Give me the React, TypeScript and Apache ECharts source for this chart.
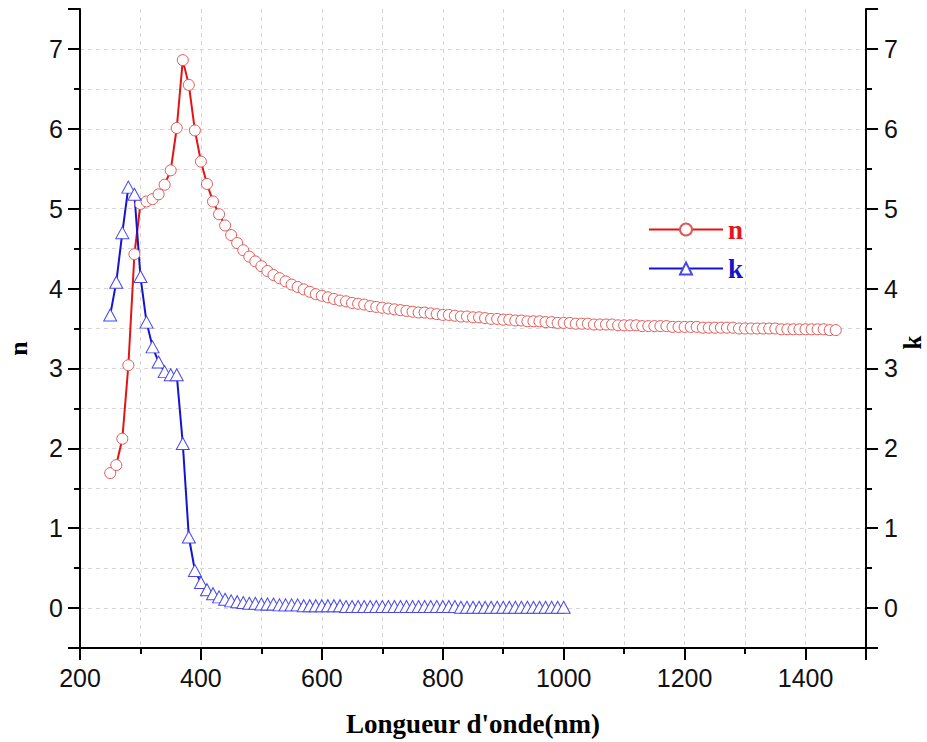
import React, { useEffect, useRef } from "react";
import * as echarts from "echarts";

const wavelengthN = [
  250, 260, 270, 280, 290, 300, 310, 320, 330, 340,
  350, 360, 370, 380, 390, 400, 410, 420, 430, 440,
  450, 460, 470, 480, 490, 500, 510, 520, 530, 540,
  550, 560, 570, 580, 590, 600, 610, 620, 630, 640,
  650, 660, 670, 680, 690, 700, 710, 720, 730, 740,
  750, 760, 770, 780, 790, 800, 810, 820, 830, 840,
  850, 860, 870, 880, 890, 900, 910, 920, 930, 940,
  950, 960, 970, 980, 990, 1000, 1010, 1020, 1030, 1040,
  1050, 1060, 1070, 1080, 1090, 1100, 1110, 1120, 1130, 1140,
  1150, 1160, 1170, 1180, 1190, 1200, 1210, 1220, 1230, 1240,
  1250, 1260, 1270, 1280, 1290, 1300, 1310, 1320, 1330, 1340,
  1350, 1360, 1370, 1380, 1390, 1400, 1410, 1420, 1430, 1440,
  1450,
];

const nValues = [
  1.69, 1.79, 2.12, 3.04, 4.43, 5.06, 5.09, 5.12, 5.18, 5.30,
  5.48, 6.01, 6.86, 6.55, 5.98, 5.59, 5.31, 5.09, 4.93, 4.79,
  4.67, 4.57, 4.48, 4.40, 4.34, 4.28, 4.22, 4.17, 4.13, 4.09,
  4.05, 4.02, 3.99, 3.96, 3.93, 3.91, 3.89, 3.87, 3.85, 3.84,
  3.82, 3.81, 3.80, 3.78, 3.77, 3.76, 3.75, 3.74, 3.73, 3.72,
  3.71, 3.70, 3.70, 3.69, 3.68, 3.67, 3.67, 3.66, 3.65, 3.65,
  3.64, 3.64, 3.63, 3.62, 3.62, 3.61, 3.61, 3.60, 3.60, 3.59,
  3.59, 3.59, 3.58, 3.58, 3.57, 3.57, 3.57, 3.56, 3.56, 3.56,
  3.55, 3.55, 3.55, 3.55, 3.54, 3.54, 3.54, 3.54, 3.53, 3.53,
  3.53, 3.53, 3.53, 3.52, 3.52, 3.52, 3.52, 3.52, 3.51, 3.51,
  3.51, 3.51, 3.51, 3.51, 3.50, 3.50, 3.50, 3.50, 3.50, 3.50,
  3.50, 3.49, 3.49, 3.49, 3.49, 3.49, 3.49, 3.49, 3.49, 3.48,
  3.48,
];

const wavelengthK = [
  250, 260, 270, 280, 290, 300, 310, 320, 330, 340,
  350, 360, 370, 380, 390, 400, 410, 420, 430, 440,
  450, 460, 470, 480, 490, 500, 510, 520, 530, 540,
  550, 560, 570, 580, 590, 600, 610, 620, 630, 640,
  650, 660, 670, 680, 690, 700, 710, 720, 730, 740,
  750, 760, 770, 780, 790, 800, 810, 820, 830, 840,
  850, 860, 870, 880, 890, 900, 910, 920, 930, 940,
  950, 960, 970, 980, 990, 1000,
];

const kValues = [
  3.67, 4.08, 4.70, 5.27, 5.18, 4.15, 3.58, 3.27, 3.08, 2.96,
  2.92, 2.92, 2.06, 0.89, 0.47, 0.32, 0.23, 0.18, 0.14, 0.11,
  0.09, 0.08, 0.07, 0.06, 0.06, 0.05, 0.05, 0.05, 0.04, 0.04,
  0.04, 0.04, 0.03, 0.03, 0.03, 0.03, 0.03, 0.03, 0.03, 0.02,
  0.02, 0.02, 0.02, 0.02, 0.02, 0.02, 0.02, 0.02, 0.02, 0.02,
  0.02, 0.02, 0.02, 0.02, 0.02, 0.02, 0.02, 0.02, 0.01, 0.01,
  0.01, 0.01, 0.01, 0.01, 0.01, 0.01, 0.01, 0.01, 0.01, 0.01,
  0.01, 0.01, 0.01, 0.01, 0.01, 0.01,
];

const xTickLabels = [200, 400, 600, 800, 1000, 1200, 1400];
const yTickLabels = [0, 1, 2, 3, 4, 5, 6, 7];
const xTitle = "Longueur d'onde(nm)";
const leftTitle = "n";
const rightTitle = "k";

export default function App() {
  const ref = useRef<HTMLDivElement>(null);

  useEffect(() => {
    if (!ref.current) return;
    const chart = echarts.init(ref.current, null, { renderer: "svg" });
    const sans = "'Liberation Sans Narrow', 'Liberation Sans', Arial, sans-serif";
    const serif = "'Liberation Serif', 'Times New Roman', serif";
    const gridLine = {
      show: true,
      showMinLine: false,
      showMaxLine: false,
      lineStyle: { color: "#d6d6d6", type: [4, 4], width: 1 },
    };
    const noGrid = { show: false };
    const axisLine = { show: true, onZero: false, lineStyle: { color: "#000", width: 2 } };
    const hiddenLine = { show: false, onZero: false };
    const majorTick = { show: true, inside: false, length: 12, lineStyle: { color: "#000", width: 2 } };
    const minorTick = { show: true, inside: false, length: 6, lineStyle: { color: "#000", width: 2 } };
    const labelStyle = { fontFamily: sans, fontSize: 25, color: "#111" };
    const xFmt = (v: number) => (xTickLabels.includes(v) ? String(v) : "");
    const yFmt = (v: number) => (yTickLabels.includes(v) ? String(v) : "");
    const titleStyle = { fontFamily: serif, fontWeight: "bold", fontSize: 27, color: "#000" };

    chart.setOption({
      animation: false,
      backgroundColor: "#fff",
      grid: { left: 80, right: 61, top: 9, bottom: 94, containLabel: false, outerBoundsMode: "none" },
      legend: {
        orient: "vertical",
        left: 643,
        top: 211,
        itemWidth: 74,
        itemHeight: 15,
        itemGap: 12,
        selectedMode: false,
        textStyle: { fontFamily: serif, fontWeight: "bold", fontSize: 27 },
        data: [
          { name: "n", textStyle: { color: "#e8141c" } },
          { name: "k", textStyle: { color: "#1515c8" } },
        ],
      },
      xAxis: [
        {
          type: "value",
          min: 200,
          max: 1500,
          interval: 200,
          position: "bottom",
          axisLine,
          axisTick: majorTick,
          axisLabel: { ...labelStyle, margin: 17, formatter: xFmt },
          splitLine: gridLine,
          name: xTitle,
          nameLocation: "middle",
          nameGap: 62,
          nameMoveOverlap: false,
          nameTextStyle: titleStyle,
        },
        {
          type: "value",
          min: 200,
          max: 1500,
          interval: 100,
          position: "bottom",
          axisLine: hiddenLine,
          axisTick: minorTick,
          axisLabel: { show: false },
          splitLine: gridLine,
        },
      ],
      yAxis: [
        {
          type: "value",
          min: -0.5,
          max: 7.5,
          splitNumber: 8,
          position: "left",
          axisLine,
          axisTick: majorTick,
          axisLabel: { ...labelStyle, margin: 17, formatter: yFmt },
          splitLine: gridLine,
          name: leftTitle,
          nameLocation: "middle",
          nameGap: 49,
          nameRotate: 90,
          nameMoveOverlap: false,
          nameTextStyle: { ...titleStyle, fontSize: 26, padding: [0, 40, 0, 0] },
        },
        {
          type: "value",
          min: -0.5,
          max: 7.5,
          splitNumber: 8,
          position: "right",
          axisLine,
          axisTick: majorTick,
          axisLabel: { ...labelStyle, margin: 18, formatter: yFmt },
          splitLine: noGrid,
          name: rightTitle,
          nameLocation: "middle",
          nameGap: 34,
          nameRotate: 90,
          nameMoveOverlap: false,
          nameTextStyle: { ...titleStyle, fontSize: 25, padding: [0, 28, 0, 0] },
        },
        {
          type: "value",
          min: -0.5,
          max: 7.5,
          interval: 0.5,
          position: "left",
          axisLine: hiddenLine,
          axisTick: minorTick,
          axisLabel: { show: false },
          splitLine: gridLine,
        },
        {
          type: "value",
          min: -0.5,
          max: 7.5,
          interval: 0.5,
          position: "right",
          axisLine: hiddenLine,
          axisTick: minorTick,
          axisLabel: { show: false },
          splitLine: noGrid,
        },
      ],
      series: [
        {
          name: "n",
          type: "line",
          xAxisIndex: 0,
          yAxisIndex: 0,
          data: wavelengthN.map((w, i) => [w, nValues[i]]),
          symbol: "circle",
          symbolSize: 11,
          showAllSymbol: true,
          color: "#e31414",
          lineStyle: { color: "#e31414", width: 2 },
          itemStyle: { color: "#fff", borderColor: "#e35656", borderWidth: 1 },
        },
        {
          name: "k",
          type: "line",
          xAxisIndex: 0,
          yAxisIndex: 1,
          data: wavelengthK.map((w, i) => [w, kValues[i]]),
          symbol: "triangle",
          symbolSize: [13, 12],
          showAllSymbol: true,
          color: "#1414d2",
          lineStyle: { color: "#1414d2", width: 2 },
          itemStyle: { color: "#fff", borderColor: "#4848ee", borderWidth: 1 },
        },
      ],
    });
    return () => chart.dispose();
  }, []);

  return (
    <div
      ref={ref}
      style={{ position: "absolute", left: 0, top: 0, width: 927, height: 742, background: "#fff" }}
    />
  );
}
